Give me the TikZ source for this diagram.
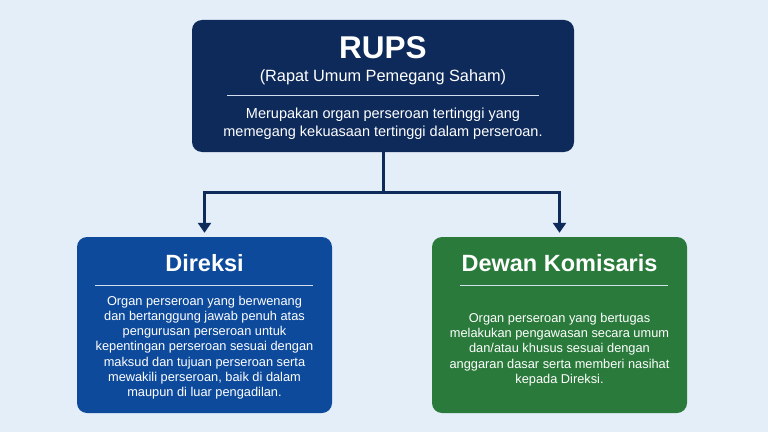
\documentclass[tikz,border=0pt]{standalone}
\usepackage{fontspec}
\setmainfont{Liberation Sans}
\usepackage{xcolor}
\usetikzlibrary{positioning,arrows.meta}

\definecolor{bgblue}{HTML}{E4EEF9}
\definecolor{navy}{HTML}{0E2A5B}
\definecolor{royal}{HTML}{0D4A9B}
\definecolor{forest}{HTML}{2A7A3B}
\definecolor{rulecol}{HTML}{D3DFEE}

\begin{document}
\begin{tikzpicture}[x=1pt,y=1pt]
	
	\tikzset{box/.style={
			rounded corners=10pt,
			fill=#1,
			minimum width=255pt,
			minimum height=176pt,
			inner sep=0pt
		},
		box/.default=royal,
		title/.style={text=white, font=\bfseries\fontsize{23.5}{26}\selectfont, inner sep=0pt},
		body/.style={text=white, align=center, inner sep=0pt,
			font=\fontsize{12.8}{15.2}\selectfont},
		sepline/.style={rulecol, line width=1pt},
		link/.style={navy, line width=3pt},
		arrow/.style={link, -{Triangle[width=13pt,length=10pt]}, shorten >=4pt}
	}
	
	% background
	\fill[bgblue] (0,0) rectangle (768,432);
	
	% RUPS
	\node[box=navy, minimum width=382pt, minimum height=132pt] (rups) at (383,346) {};
	\node[title, font=\bfseries\fontsize{31.5}{34}\selectfont] (rupsT) at (383,384) {RUPS};
	\node[body, font=\fontsize{16.3}{18}\selectfont] (rupsS) at (383,355) {(Rapat Umum Pemegang Saham)};
	\draw[sepline] (227,336) -- (539,336);
	\node[body, font=\fontsize{14.5}{18}\selectfont] (rupsD) at (383,308)
		{Merupakan organ perseroan tertinggi yang\\ memegang kekuasaan tertinggi dalam perseroan.};
	
	% Direksi
	\node[box] (direksi) at (204.5,107) {};
	\node[title] (direksiT) at (204.5,169) {Direksi};
	\draw[sepline] (95,147) -- (313,147);
	\node[body] (direksiD) at (204.5,84.5)
		{Organ perseroan yang berwenang\\ dan bertanggung jawab penuh atas\\
		 pengurusan perseroan untuk\\ kepentingan perseroan sesuai dengan\\
		 maksud dan tujuan perseroan serta\\ mewakili perseroan, baik di dalam\\
		 maupun di luar pengadilan.};
	
	% Dewan Komisaris
	\node[box=forest] (dewan) at (559.5,107) {};
	\node[title] (dewanT) at (559.5,169) {Dewan Komisaris};
	\draw[sepline] (460,147) -- (668,147);
	\node[body] (dewanD) at (559.5,82.5)
		{Organ perseroan yang bertugas\\ melakukan pengawasan secara umum\\
		 dan/atau khusus sesuai dengan\\ anggaran dasar serta memberi nasihat\\
		 kepada Direksi.};
	
	% connectors
	\draw[link] (rups.south) -- ++(0,-40) coordinate (split);
	\draw[arrow] (split) -| (direksi.north);
	\draw[arrow] (split) -| (dewan.north);
	
\end{tikzpicture}
\end{document}
